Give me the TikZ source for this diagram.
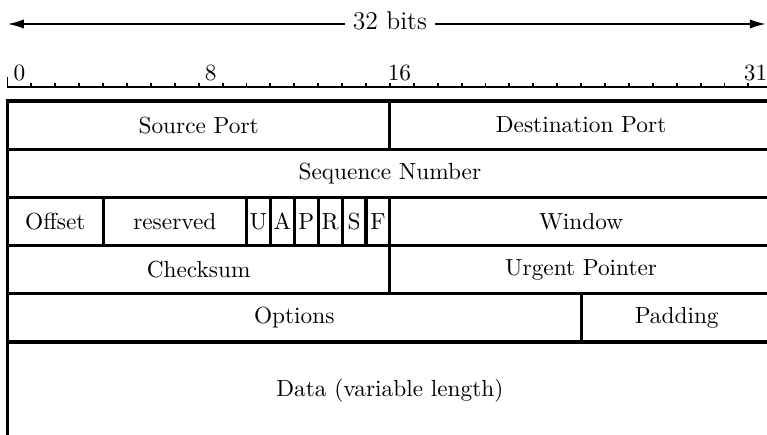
\documentclass[tikz,border=0pt]{standalone}
\usetikzlibrary{arrows.meta}
\begin{document}
\begin{tikzpicture}[x=10.258pt, y=-0.4292pt,
  field/.style={draw, line width=1.3pt, anchor=north west, inner sep=0pt, outer sep=0pt,
    minimum height=20.69pt, font=\fontsize{10}{12}\selectfont},
  f/.style={field, minimum width=#1*10.258pt},
  ruler/.style={line width=0.8pt},
  digit/.style={inner sep=0pt, font=\fontsize{10}{12}\selectfont},
  arr/.style={line width=0.9pt, -{Latex[length=7pt,width=4pt]}}]
\useasboundingbox (-0.3138,0) rectangle (31.778,435);
\clip (-0.3138,0) rectangle (31.778,435);
% width arrow
\node[inner xsep=3.3pt, inner ysep=0pt, font=\fontsize{11}{13}\selectfont] (bits) at (16,21) {32 bits};
\coordinate (al) at (0,24);
\coordinate (ar) at (31.74,24);
\draw[arr] (bits.west |- al) -- (al);
\draw[arr] (bits.east |- ar) -- (ar);
% ruler
\draw[ruler] (0,87.3) -- (32,87.3);
\foreach \i in {1,...,32} \draw[ruler] (\i,87.3) -- (\i,83);
\draw[ruler] (0,87.3) -- (0,77);
\node[digit] (l0) at (0.5,73.5) {0};
\node[digit] (l8) at (8.5,73.5) {8};
\node[digit] (l16) at (16.4,73.5) {16};
\node[digit] (l31) at (31.3,73.5) {31};
% fields
\node[f=16] (src) at (0,101) {Source Port};
\node[f=16] (dst) at (16,101) {Destination Port};
\node[f=32] (seq) at (0,149.2) {Sequence Number};
\node[f=4] (off) at (0,197.4) {Offset};
\node[f=6] (res) at (4,197.4) {reserved};
\node[f=1] (fu) at (10,197.4) {U};
\node[f=1] (fa) at (11,197.4) {A};
\node[f=1] (fp) at (12,197.4) {P};
\node[f=1] (fr) at (13,197.4) {R};
\node[f=1] (fs) at (14,197.4) {S};
\node[f=1] (ff) at (15,197.4) {F};
\node[f=16] (win) at (16,197.4) {Window};
\node[f=16] (chk) at (0,245.6) {Checksum};
\node[f=16] (urg) at (16,245.6) {Urgent Pointer};
\node[f=24] (opt) at (0,293.8) {Options};
\node[f=8] (pad) at (24,293.8) {Padding};
\node[f=32, minimum height=41.38pt] (data) at (0,342) {Data (variable length)};
\end{tikzpicture}
\end{document}
